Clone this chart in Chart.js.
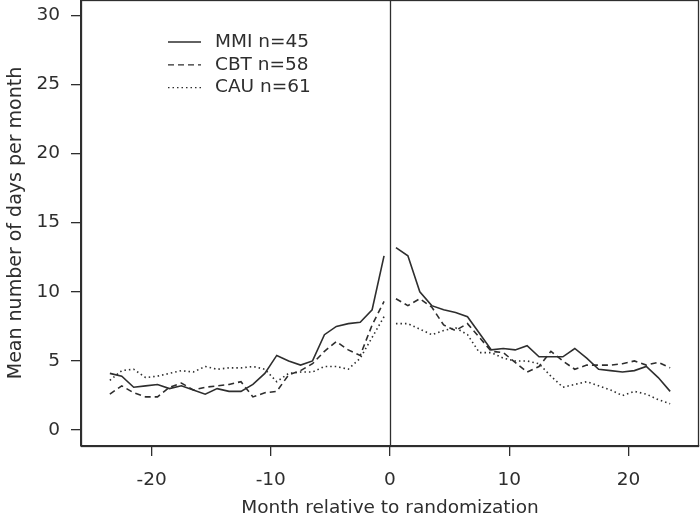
<!DOCTYPE html>
<html>
<head>
<meta charset="utf-8">
<script src="https://cdn.jsdelivr.net/npm/chart.js@4/dist/chart.umd.min.js"></script>
<style>
  html, body { margin: 0; padding: 0; background: #fff; }
  canvas { display: block; }
</style>
</head>
<body>
<canvas id="daysChart" width="700" height="521"></canvas>
<script>
// months are plotted at the middle of each month
const monthsBefore = [-23.5, -22.5, -21.5, -20.5, -19.5, -18.5, -17.5, -16.5, -15.5, -14.5, -13.5, -12.5,
  -11.5, -10.5, -9.5, -8.5, -7.5, -6.5, -5.5, -4.5, -3.5, -2.5, -1.5, -0.5];
const monthsAfter = [0.5, 1.5, 2.5, 3.5, 4.5, 5.5, 6.5, 7.5, 8.5, 9.5, 10.5, 11.5,
  12.5, 13.5, 14.5, 15.5, 16.5, 17.5, 18.5, 19.5, 20.5, 21.5, 22.5, 23.5];

const mmiBefore = [4.1, 3.9, 3.1, 3.2, 3.3, 3.0, 3.2, 2.9, 2.6, 3.0, 2.8, 2.8, 3.3, 4.1, 5.4, 5.0, 4.7, 5.0, 6.9, 7.5, 7.7, 7.8, 8.7, 12.6];
const mmiAfter = [13.2, 12.6, 10.0, 9.0, 8.7, 8.5, 8.2, 7.0, 5.8, 5.9, 5.8, 6.1, 5.3, 5.3, 5.3, 5.9, 5.2, 4.4, 4.3, 4.2, 4.3, 4.6, 3.8, 2.8];
const cbtBefore = [2.6, 3.2, 2.7, 2.4, 2.4, 3.1, 3.4, 2.9, 3.1, 3.2, 3.3, 3.5, 2.4, 2.7, 2.8, 4.0, 4.3, 4.8, 5.7, 6.4, 5.8, 5.4, 7.6, 9.3];
const cbtAfter = [9.5, 9.0, 9.5, 8.9, 7.6, 7.2, 7.7, 6.7, 5.7, 5.6, 4.9, 4.2, 4.6, 5.7, 5.0, 4.4, 4.7, 4.7, 4.7, 4.8, 5.0, 4.7, 4.9, 4.5];
const cauBefore = [3.6, 4.3, 4.4, 3.8, 3.9, 4.1, 4.3, 4.2, 4.6, 4.4, 4.5, 4.5, 4.6, 4.4, 3.5, 4.1, 4.2, 4.2, 4.6, 4.6, 4.4, 5.2, 6.7, 8.2];
const cauAfter = [7.7, 7.7, 7.3, 6.9, 7.2, 7.4, 6.9, 5.6, 5.6, 5.2, 5.0, 5.0, 4.8, 3.9, 3.1, 3.3, 3.5, 3.2, 2.9, 2.5, 2.8, 2.6, 2.2, 1.9];

const seriesLabels = ["MMI n=45", "CBT n=58", "CAU n=61"];
const xTicks = [-20, -10, 0, 10, 20];
const yTicks = [0, 5, 10, 15, 20, 25, 30];

const ink = "#2e2e2e";
const fontFamily = "'DejaVu Sans', sans-serif";
const fontSize = 18.5;

// join both halves, with a gap at randomization
function toPoints(before, after) {
  const pts = monthsBefore.map((m, i) => ({ x: m, y: before[i] }));
  pts.push({ x: 0, y: null });
  return pts.concat(monthsAfter.map((m, i) => ({ x: m, y: after[i] })));
}

const frameAndLegend = {
  id: "frameAndLegend",
  afterDatasetsDraw(chart) {
    const { ctx, chartArea } = chart;
    const xScale = chart.scales.x;
    ctx.save();
    ctx.strokeStyle = ink;
    ctx.lineWidth = 1.3;
    ctx.setLineDash([]);
    ctx.strokeRect(chartArea.left + 0.5, chartArea.top + 0.5,
      chartArea.right - chartArea.left - 1, chartArea.bottom - chartArea.top);

    // randomization line
    const x0 = Math.round(xScale.getPixelForValue(0)) + 0.5;
    ctx.beginPath();
    ctx.moveTo(x0, chartArea.top);
    ctx.lineTo(x0, chartArea.bottom);
    ctx.stroke();

    // legend
    ctx.font = fontSize + "px " + fontFamily;
    ctx.textBaseline = "middle";
    ctx.fillStyle = ink;
    chart.data.datasets.forEach((ds, i) => {
      const y = 42 + i * 22.8;
      ctx.beginPath();
      ctx.lineWidth = 1.3;
      ctx.strokeStyle = ink;
      ctx.setLineDash(ds.borderDash || []);
      ctx.moveTo(168, y);
      ctx.lineTo(201, y);
      ctx.stroke();
      ctx.setLineDash([]);
      ctx.fillText(ds.label, 215, y);
    });
    ctx.restore();
  }
};

const ctx = document.getElementById("daysChart").getContext("2d");

new Chart(ctx, {
  type: "line",
  data: {
    datasets: [
      {
        label: seriesLabels[0],
        data: toPoints(mmiBefore, mmiAfter),
        borderColor: ink,
        borderWidth: 1.6,
        borderDash: [],
      },
      {
        label: seriesLabels[1],
        data: toPoints(cbtBefore, cbtAfter),
        borderColor: ink,
        borderWidth: 1.6,
        borderDash: [6, 4],
      },
      {
        label: seriesLabels[2],
        data: toPoints(cauBefore, cauAfter),
        borderColor: ink,
        borderWidth: 1.6,
        borderDash: [1.5, 3],
      },
    ],
  },
  options: {
    responsive: false,
    animation: false,
    devicePixelRatio: 1,
    spanGaps: false,
    elements: { point: { radius: 0 }, line: { tension: 0, fill: false } },
    layout: { padding: { left: 0, right: 1, top: 0, bottom: 0 } },
    plugins: { legend: { display: false }, tooltip: { enabled: false } },
    scales: {
      x: {
        type: "linear",
        min: -25.92,
        max: 25.92,
        afterBuildTicks: (scale) => { scale.ticks = xTicks.map((v) => ({ value: v })); },
        afterFit: (scale) => {
          scale.height = 75;
          scale.paddingLeft = 0;
          scale.paddingRight = 0;
        },
        grid: { drawOnChartArea: false, drawTicks: true, tickLength: 10, color: ink, lineWidth: 1.3 },
        border: { display: true, color: ink, width: 1.3 },
        ticks: { color: ink, font: { size: fontSize, family: fontFamily }, padding: 13, maxRotation: 0 },
        title: {
          display: true,
          text: "Month relative to randomization",
          color: ink,
          font: { size: fontSize, family: fontFamily },
          padding: { top: 0, bottom: 2 },
        },
      },
      y: {
        type: "linear",
        min: -1.15,
        max: 31.1,
        afterBuildTicks: (scale) => { scale.ticks = yTicks.map((v) => ({ value: v })); },
        afterFit: (scale) => {
          scale.width = 81;
          scale.paddingTop = 0;
          scale.paddingBottom = 0;
        },
        grid: { drawOnChartArea: false, drawTicks: true, tickLength: 10, color: ink, lineWidth: 1.3 },
        border: { display: true, color: ink, width: 1.3 },
        ticks: { color: ink, font: { size: fontSize, family: fontFamily }, padding: 11 },
        title: {
          display: true,
          text: "Mean number of days per month",
          color: ink,
          font: { size: 19, family: fontFamily },
          padding: { top: 5, bottom: 0 },
        },
      },
    },
  },
  plugins: [frameAndLegend],
});
</script>
</body>
</html>
